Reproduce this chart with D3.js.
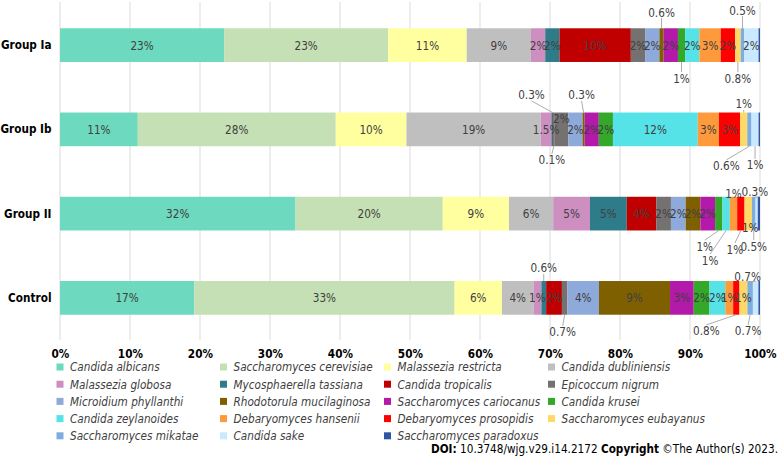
<!DOCTYPE html>
<html>
<head>
<meta charset="utf-8">
<script src="https://cdn.jsdelivr.net/npm/d3@7"></script>
<style>
  html, body { margin: 0; padding: 0; background: #fff; }
  svg { display: block; font-family: "DejaVu Sans", Verdana, sans-serif; }
</style>
</head>
<body>
<svg id="chart" width="779" height="456"></svg>
<script>
// ---------- data ----------
const groups = ["Group Ia", "Group Ib", "Group II", "Control"];
const species = [
  "Candida albicans", "Saccharomyces cerevisiae", "Malassezia restricta", "Candida dubliniensis",
  "Malassezia globosa", "Mycosphaerella tassiana", "Candida tropicalis", "Epicoccum nigrum",
  "Microidium phyllanthi", "Rhodotorula mucilaginosa", "Saccharomyces cariocanus", "Candida krusei",
  "Candida zeylanoides", "Debaryomyces hansenii", "Debaryomyces prosopidis", "Saccharomyces eubayanus",
  "Saccharomyces mikatae", "Candida sake", "Saccharomyces paradoxus"
];
const colors = [
  "#6dd9be", "#c5e0b4", "#ffff9f", "#bfbfbf",
  "#cc8fc0", "#2e7b89", "#c00000", "#767171",
  "#8eaadb", "#7f6000", "#b31aa9", "#33a829",
  "#55e3e8", "#ff9a3c", "#ff0000", "#ffd966",
  "#7eaee0", "#c8e9ff", "#2f55a4"
];
const valuesIa      = [23, 23, 11, 9, 2, 2, 10, 2, 2, 0.6, 2, 1, 2, 3, 2, 0.8, 0.5, 2, 0.2];
const valuesIb      = [11, 28, 10, 19, 1.5, 0.3, 0.1, 2, 2, 0.3, 2, 2, 12, 3, 3, 1, 0.6, 1, 0.2];
const valuesII      = [32, 20, 9, 6, 5, 5, 4, 2, 2, 2, 2, 1, 1, 1, 1, 1, 0.5, 0.3, 0.3];
const valuesControl = [17, 33, 6, 4, 1, 0.6, 2, 0.7, 4, 9, 3, 2, 2, 1, 0.8, 1, 0.7, 0.7, 0.2];
const groupValues = [valuesIa, valuesIb, valuesII, valuesControl];
const xTicks = [0, 10, 20, 30, 40, 50, 60, 70, 80, 90, 100];

// ---------- label layout (offsets in px from segment centre; null = hidden) ----------
const labelLayout = [
  {9: [0, -33], 11: [0, 33], 15: [0, 33], 16: [0, -35], 18: null},
  {5: [-21, -34.5], 6: [-2, 30.5], 7: [0, -11], 9: [-2, -34.5], 15: [0, -25.5], 16: [-23, 36.5], 17: [0, 35.5], 18: null},
  {11: [-14, 32.5], 12: [-16, 46.5], 13: [0, -20.5], 14: [-6, 35.5], 15: [2, 13.5], 16: [0, 32.5], 17: null, 18: [-4, -22.5]},
  {5: [0, -30], 7: [-2, 34], 14: [-30, 33], 16: [-2, 33], 17: [-8, -21], 18: null}
];

// ---------- geometry (horizontal compression like the reference) ----------
const K = 0.84;
const VW = 779 / K;
const X = px => px / K;
const FS = 12.5;

const svg = d3.select("#chart")
  .attr("viewBox", `0 0 ${VW} 456`)
  .attr("preserveAspectRatio", "none");

const x = d3.scaleLinear().domain([0, 100]).range([X(60), X(760)]);
const y = d3.scaleBand().domain(groups).range([3, 340]).paddingInner(0.6).paddingOuter(0.3);

// gridlines
svg.append("g").selectAll("line").data(xTicks).join("line")
  .attr("x1", d => x(d)).attr("x2", d => x(d))
  .attr("y1", 2).attr("y2", 340)
  .attr("stroke", "#d9d9d9").attr("stroke-width", 1.1);

// x axis labels
const xAxis = d3.axisBottom(x).tickValues(xTicks).tickFormat(d => d + "%").tickSize(0);
const gx = svg.append("g").attr("transform", "translate(0,346)").call(xAxis);
gx.select(".domain").remove();
gx.selectAll("text").attr("font-size", FS).attr("font-weight", "bold").attr("fill", "#000")
  .attr("font-family", "DejaVu Sans, Verdana, sans-serif");

// y axis labels
const yAxis = d3.axisLeft(y).tickSize(0);
const gy = svg.append("g").attr("transform", `translate(${X(54)},0)`).call(yAxis);
gy.select(".domain").remove();
gy.selectAll("text").attr("font-size", FS).attr("font-weight", "bold").attr("fill", "#000")
  .attr("font-family", "DejaVu Sans, Verdana, sans-serif");

// stacked (normalised) data
const fmt = v => v + "%";
groups.forEach((g, gi) => {
  const vals = groupValues[gi];
  const total = d3.sum(vals);
  let cum = 0;
  const segs = vals.map((v, si) => {
    const s = {si, v, x0: cum / total * 100, x1: (cum + v) / total * 100};
    cum += v;
    return s;
  });
  const gg = svg.append("g");
  const y0 = y(g), bw = y.bandwidth(), yc = y0 + bw / 2;
  gg.selectAll("rect").data(segs).join("rect")
    .attr("x", d => x(d.x0))
    .attr("width", d => Math.max(0, x(d.x1) - x(d.x0)))
    .attr("y", y0).attr("height", bw)
    .attr("fill", d => colors[d.si]);

  const layout = labelLayout[gi];
  segs.forEach(d => {
    let off = [0, 0];
    if (d.si in layout) {
      if (layout[d.si] === null) return;
      off = layout[d.si];
    }
    const cx = (x(d.x0) + x(d.x1)) / 2;
    const lx = cx + X(off[0]);
    const ly = yc + off[1];
    if (Math.abs(off[1]) > bw / 2) {
      const above = off[1] < 0;
      const ey = above ? y0 : y0 + bw;
      const sy = above ? ly + 6 : ly - 6;
      gg.append("line")
        .attr("x1", lx).attr("y1", sy)
        .attr("x2", cx).attr("y2", ey)
        .attr("stroke", "#a6a6a6").attr("stroke-width", 1);
    }
    gg.append("text")
      .attr("x", lx).attr("y", ly).attr("dy", "0.36em")
      .attr("text-anchor", "middle")
      .attr("font-size", FS).attr("fill", "#404040")
      .text(fmt(d.v));
  });
});

// legend
const legend = svg.append("g");
const colX = [60, 223.5, 387.5, 551.5];
const rowY = [367, 384.2, 401.4, 418.6, 435.8];
species.forEach((s, i) => {
  const c = i % 4, r = Math.floor(i / 4);
  legend.append("rect")
    .attr("x", X(colX[c] - 3.5)).attr("y", rowY[r] - 3.5)
    .attr("width", X(7)).attr("height", 7)
    .attr("fill", colors[i]);
  legend.append("text")
    .attr("x", X(colX[c] + 10)).attr("y", rowY[r]).attr("dy", "0.36em")
    .attr("font-size", FS).attr("font-style", "italic").attr("fill", "#404040")
    .text(s);
});

// footer
const foot = svg.append("text")
  .attr("x", X(778)).attr("y", 449).attr("dy", "0.36em")
  .attr("text-anchor", "end").attr("font-size", FS).attr("fill", "#000");
foot.append("tspan").attr("font-weight", "bold").text("DOI:");
foot.append("tspan").text(" 10.3748/wjg.v29.i14.2172  ");
foot.append("tspan").attr("font-weight", "bold").text("Copyright");
foot.append("tspan").text(" ©The Author(s) 2023.");
</script>
</body>
</html>
